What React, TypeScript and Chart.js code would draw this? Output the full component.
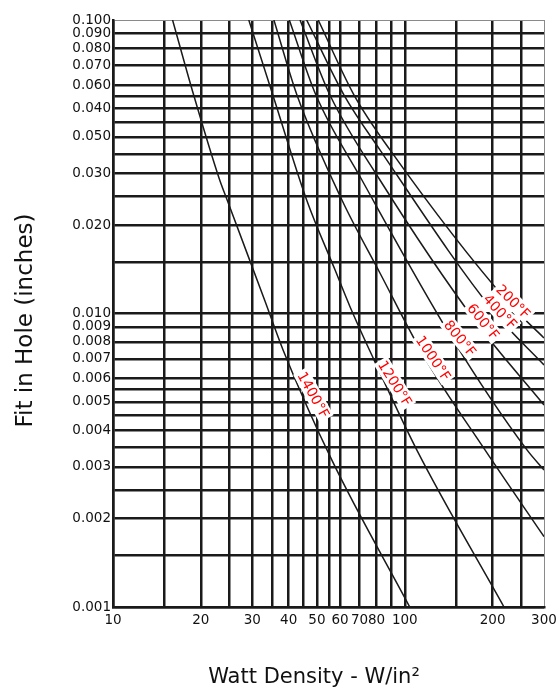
import React, { useEffect, useRef } from 'react';
import { Chart, registerables } from 'chart.js';

Chart.register(...registerables);

// Axis ticks (grid lines) and their labels
const xTickValues = [10, 15, 20, 25, 30, 35, 40, 45, 50, 55, 60, 70, 80, 90, 100, 150, 200, 250, 300];
const xTickLabels = ['10', '', '20', '', '30', '', '40', '', '50', '', '60', '70', '80', '', '100', '', '200', '', '300'];
const yTickValues = [0.001, 0.0015, 0.002, 0.0025, 0.003, 0.0035, 0.004, 0.0045, 0.005, 0.0055, 0.006, 0.007, 0.008, 0.009,
  0.01, 0.015, 0.02, 0.025, 0.03, 0.035, 0.04, 0.045, 0.05, 0.055, 0.06, 0.07, 0.08, 0.09, 0.1];
const yTickLabels = ['0.001', '', '0.002', '', '0.003', '', '0.004', '', '0.005', '', '0.006', '0.007', '0.008', '0.009',
  '0.010', '', '0.020', '', '0.030', '', '0.050', '', '0.040', '', '0.060', '0.070', '0.080', '0.090', '0.100'];

// Series (temperature curves)
const seriesNames = ['200°F', '400°F', '600°F', '800°F', '1000°F', '1200°F', '1400°F'];
const x200 = [50.5, 67, 89, 225.8, 300];
const y200 = [0.1, 0.0555, 0.0361, 0.01094, 0.00825];
const x400 = [46.1, 61.9, 82.2, 202.2, 300];
const y400 = [0.1, 0.0555, 0.0361, 0.01012, 0.00668];
const x600 = [43.75, 55.4, 82.2, 175.4, 300];
const y600 = [0.1, 0.0555, 0.0285, 0.00935, 0.00488];
const x800 = [40.2, 49.6, 71.3, 145.1, 262.3, 300];
const y800 = [0.1, 0.0555, 0.0285, 0.00825, 0.00343, 0.00293];
const x1000 = [35.6, 42.7, 60.9, 82.2, 117.3, 188.3, 300];
const y1000 = [0.1, 0.0555, 0.02436, 0.01374, 0.00705, 0.00343, 0.001736];
const x1200 = [29.2, 35.3, 46.1, 57.7, 64.9, 78.5, 109.9, 218.8];
const y1200 = [0.1, 0.0555, 0.02436, 0.01406, 0.01055, 0.00694, 0.00343, 0.001];
const x1400 = [16, 18.9, 23.1, 24.6, 33.1, 38.3, 56.2, 104];
const y1400 = [0.1, 0.0555, 0.0289, 0.0244, 0.0111, 0.0075, 0.00317, 0.001];

const seriesX = [x200, x400, x600, x800, x1000, x1200, x1400];
const seriesY = [y200, y400, y600, y800, y1000, y1200, y1400];

// Curve label anchors (data coordinates) and rotation in degrees
const labelX = [235.4, 212.1, 185.8, 154.6, 125.2, 92.5, 48.6];
const labelY = [0.01097, 0.01014, 0.00938, 0.00823, 0.00704, 0.00578, 0.00528];
const labelAngle = [45, 47, 51, 51, 56, 58, 61];

const xTitle = 'Watt Density - W/in²';
const yTitle = 'Fit in Hole (inches)';

const FONT = '"DejaVu Sans", "Noto Sans", sans-serif';
const GRID = '#1a1a1a';

const findLabel = (values: number[], labels: string[], v: number) => {
  const i = values.findIndex((t) => Math.abs(t - v) / t < 1e-6);
  return i >= 0 ? labels[i] : '';
};

const curveLabelPlugin = {
  id: 'curveLabels',
  afterDatasetsDraw(chart: any) {
    const { ctx, scales } = chart;
    ctx.save();
    ctx.font = `14px ${FONT}`;
    seriesNames.forEach((name, i) => {
      const px = scales.x.getPixelForValue(labelX[i]);
      const py = scales.y.getPixelForValue(labelY[i]);
      ctx.save();
      ctx.translate(px, py);
      ctx.rotate((labelAngle[i] * Math.PI) / 180);
      const w = ctx.measureText(name).width;
      ctx.fillStyle = '#ffffff';
      ctx.fillRect(-w / 2 - 2, -8, w + 4, 16);
      ctx.fillStyle = '#ff0000';
      ctx.textAlign = 'center';
      ctx.textBaseline = 'middle';
      ctx.fillText(name, 0, 1);
      ctx.restore();
    });
    ctx.restore();
  },
};

const axisTitlePlugin = {
  id: 'axisTitles',
  afterDraw(chart: any) {
    const { ctx, chartArea } = chart;
    ctx.save();
    ctx.fillStyle = '#111';
    ctx.textAlign = 'center';
    ctx.textBaseline = 'alphabetic';
    ctx.font = `21px ${FONT}`;
    ctx.fillText(xTitle, 314, 683);
    ctx.translate(31.5, chartArea.top + 300.5);
    ctx.rotate(-Math.PI / 2);
    ctx.font = `23px ${FONT}`;
    ctx.fillText(yTitle, 0, 0);
    ctx.restore();
  },
};

export default function App() {
  const ref = useRef<HTMLCanvasElement>(null);

  useEffect(() => {
    if (!ref.current) return;
    const datasets = seriesNames.map((name, i) => ({
      label: name,
      data: seriesX[i].map((x, j) => ({ x, y: seriesY[i][j] })),
      borderColor: '#1a1a1a',
      borderWidth: 1.5,
      pointRadius: 0,
      fill: false,
      cubicInterpolationMode: 'monotone' as const,
    }));

    const chart = new Chart(ref.current, {
      type: 'line',
      data: { datasets },
      options: {
        responsive: false,
        animation: false,
        devicePixelRatio: 1,
        layout: { padding: { top: 20, right: 13, left: 0, bottom: 0 } },
        plugins: { legend: { display: false }, tooltip: { enabled: false } },
        scales: {
          x: {
            type: 'logarithmic',
            min: 10,
            max: 300,
            afterBuildTicks: (scale: any) => {
              scale.ticks = xTickValues.map((v) => ({ value: v }));
            },
            afterFit: (scale: any) => {
              scale.height = 81;
              scale.paddingLeft = 0;
              scale.paddingRight = 0;
            },
            ticks: {
              autoSkip: false,
              maxRotation: 0,
              minRotation: 0,
              padding: 5,
              color: '#111',
              font: { family: FONT, size: 13.5 },
              callback: (v: any) => findLabel(xTickValues, xTickLabels, Number(v)),
            },
            grid: {
              drawTicks: false,
              color: (c: any) => (c.tick && c.tick.value === 300 ? '#8a8a8a' : GRID),
              lineWidth: (c: any) => (c.tick && c.tick.value === 300 ? 1 : 2.5),
            },
            border: { display: true, color: GRID, width: 2.5 },
          },
          y: {
            type: 'logarithmic',
            min: 0.001,
            max: 0.1,
            afterBuildTicks: (scale: any) => {
              scale.ticks = yTickValues.map((v) => ({ value: v }));
            },
            afterFit: (scale: any) => {
              scale.width = 113;
              scale.paddingTop = 0;
              scale.paddingBottom = 0;
            },
            ticks: {
              autoSkip: false,
              padding: 2,
              color: '#111',
              font: { family: FONT, size: 13.5 },
              callback: (v: any) => findLabel(yTickValues, yTickLabels, Number(v)),
            },
            grid: {
              drawTicks: false,
              color: (c: any) => (c.tick && Math.abs(c.tick.value - 0.1) < 1e-9 ? '#8a8a8a' : GRID),
              lineWidth: (c: any) => (c.tick && Math.abs(c.tick.value - 0.1) < 1e-9 ? 1 : 2.5),
            },
            border: { display: true, color: GRID, width: 2.5 },
          },
        },
      },
      plugins: [curveLabelPlugin, axisTitlePlugin],
    });
    return () => chart.destroy();
  }, []);

  return (
    <div style={{ position: 'fixed', left: 0, top: 0, width: 557, height: 688, background: '#fff' }}>
      <canvas ref={ref} width={557} height={688} style={{ display: 'block' }} />
    </div>
  );
}
